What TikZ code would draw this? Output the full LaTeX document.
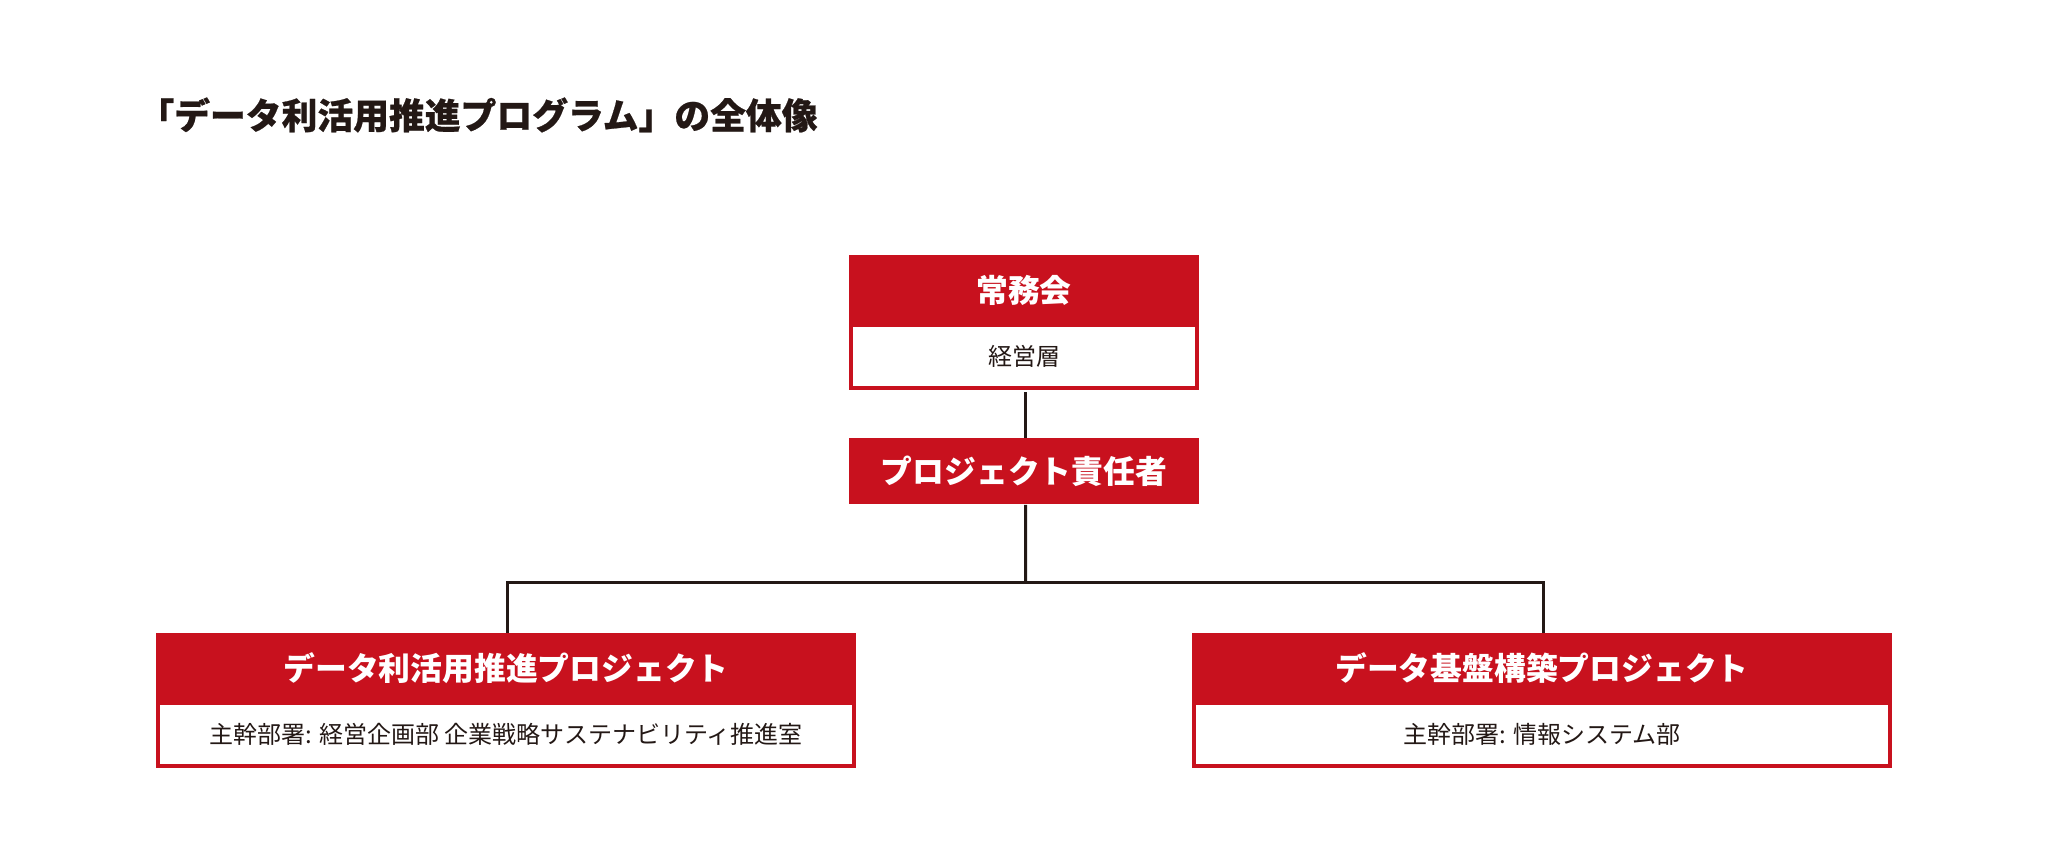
\documentclass[tikz,border=0pt]{standalone}
\usepackage{fontspec}
\setmainfont{Noto Sans CJK JP}
\newfontfamily\titlefont{Noto Sans CJK JP}[BoldFeatures={FakeBold=0.6}]
\definecolor{brandred}{HTML}{C8111E}
\definecolor{ink}{HTML}{231815}
\begin{document}
\begin{tikzpicture}[x=0.5pt,y=-0.5pt,
  hdr/.style={fill=brandred,text=white,inner sep=0pt,font=\bfseries\fontsize{15.9pt}{18pt}\selectfont},
  bodybox/.style={draw=brandred,line width=2pt,fill=white,text=ink,inner sep=0pt,font=\fontsize{12pt}{14pt}\selectfont},
  conn/.style={draw=ink,line width=1.5pt}]
\useasboundingbox (0,0) rectangle (2048,850);
% title
\node[anchor=west,inner sep=0pt,text=ink,font=\titlefont\bfseries\fontsize{17.9pt}{20pt}\selectfont] (title) at (138,115) {「データ利活用推進プログラム」の全体像};
% top box
\node[hdr,anchor=north,minimum width=175pt,minimum height=35pt] (jomu) at (1024,255) {常務会};
\node[bodybox,anchor=north,minimum width=173pt,minimum height=31.5pt] (keiei) at (1024,323) {経営層};
% project lead
\node[hdr,anchor=north,minimum width=175pt,minimum height=33pt] (lead) at (1024,438) {プロジェクト責任者};
% left project
\node[hdr,anchor=north,minimum width=350pt,minimum height=35pt] (lefth) at (506,633) {データ利活用推進プロジェクト};
\node[bodybox,anchor=north,minimum width=348pt,minimum height=31.5pt] (leftb) at (506,701) {主幹部署: 経営企画部 企業戦略サステナビリティ推進室};
% right project
\node[hdr,anchor=north,minimum width=350pt,minimum height=35pt] (righth) at (1542,633) {データ基盤構築プロジェクト};
\node[bodybox,anchor=north,minimum width=348pt,minimum height=31.5pt] (rightb) at (1542,701) {主幹部署: 情報システム部};
% connectors
\coordinate (junc) at (1025.7,582.5);
\draw[conn] ([xshift=0.85pt,yshift=-1pt]keiei.south) -- ([xshift=0.85pt]lead.north);
\draw[conn] ([xshift=0.85pt]lead.south) -- (junc);
\draw[conn] (junc) -| ([xshift=0.75pt]lefth.north);
\draw[conn] (junc) -| ([xshift=0.75pt]righth.north);
\end{tikzpicture}
\end{document}
